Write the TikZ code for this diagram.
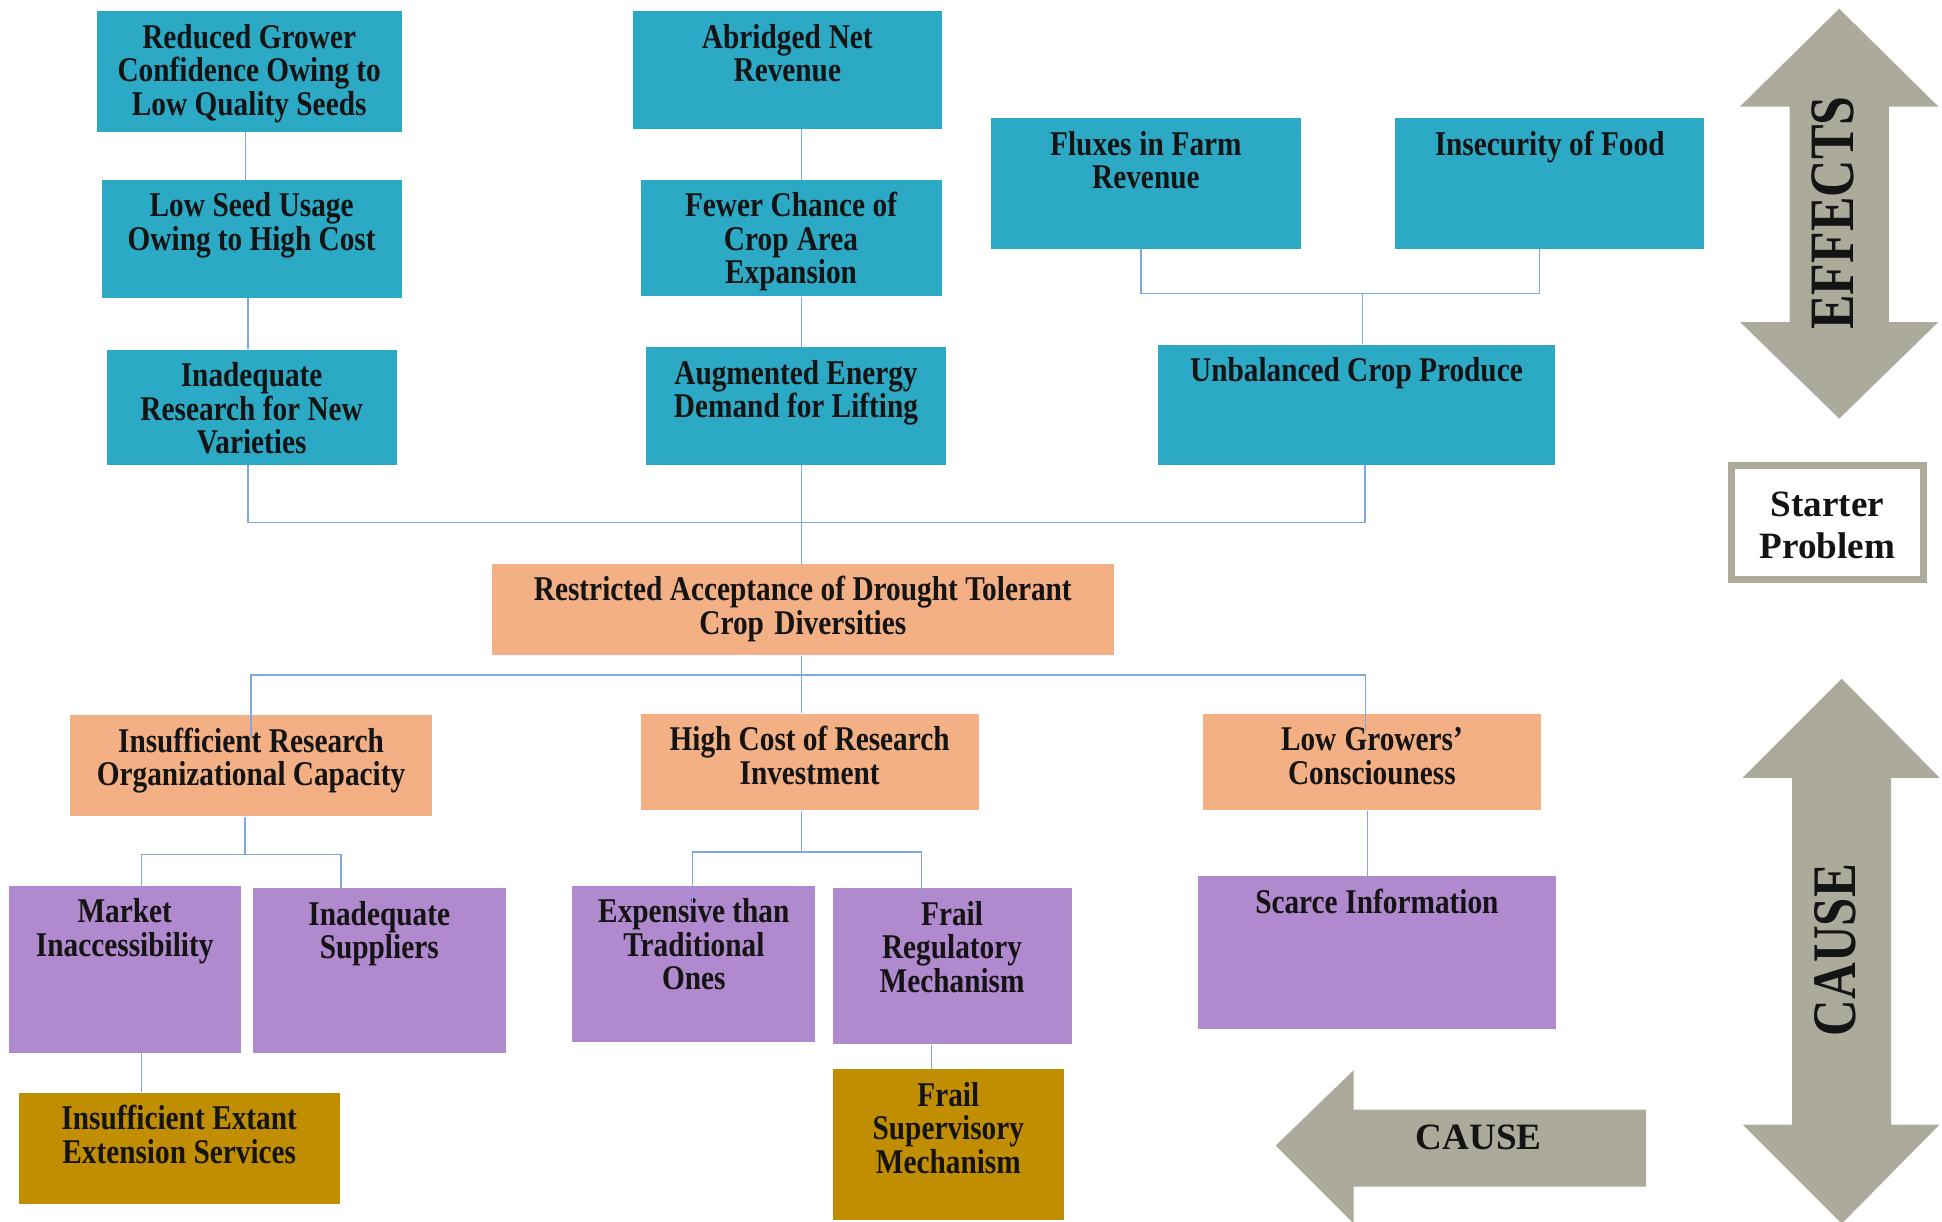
\documentclass[tikz,border=0pt]{standalone}
\usepackage{fontspec}
\setmainfont{Liberation Serif}
\newfontfamily\condfont[FakeStretch=0.845]{Liberation Serif}
\newfontfamily\tallfont[FakeStretch=0.82]{Liberation Serif}

\definecolor{effteal}{RGB}{44,169,196}
\definecolor{probsalmon}{RGB}{243,176,132}
\definecolor{causepurple}{RGB}{176,137,206}
\definecolor{rootgold}{RGB}{192,142,0}
\definecolor{arrowgray}{RGB}{171,170,155}
\definecolor{linkblue}{RGB}{126,168,222}

\tikzset{
  boxbase/.style={rectangle, inner sep=0pt, draw=none},
  boxtext/.style={inner sep=0pt, align=center, text=black!92,
    font=\condfont\bfseries\fontsize{28}{27}\selectfont},
  conn/.style={draw=linkblue, line width=1.2pt},
  bigarrow/.style={fill=arrowgray, draw=none},
}

% name, fill, x1, y1, x2, y2, text
\newcommand\diagbox[7]{%
  \pgfmathsetmacro\dgbw{#5-#3}%
  \pgfmathsetmacro\dgbh{#6-#4}%
  \pgfmathsetmacro\dgtw{#5-#3-6}%
  \node[boxbase, fill=#2, minimum width=\dgbw pt, minimum height=\dgbh pt,
        anchor=north west] (#1) at (#3,#4) {};
  \node[boxtext, text width=\dgtw pt, anchor=north] (#1-t)
        at ([yshift=-9pt]#1.north)
        {\spaceskip=5.5pt plus 1pt minus 1pt\relax\rule{0pt}{21pt}#7};%
}

\begin{document}
\begin{tikzpicture}[x=1pt, y=-1pt]
\path[fill=white] (0,0) rectangle (1568,986);
\useasboundingbox (0,0) rectangle (1568,986);

% ---------- effects ----------
\diagbox{rg}{effteal}{78}{9}{324}{106}{Reduced Grower\\Confidence Owing to\\Low Quality Seeds}
\diagbox{ls}{effteal}{82}{145}{324}{240}{Low Seed Usage\\Owing to High Cost}
\diagbox{ir}{effteal}{86}{282}{320}{375}{Inadequate\\Research for New\\Varieties}
\diagbox{an}{effteal}{511}{9}{760}{104}{Abridged Net\\Revenue}
\diagbox{fc}{effteal}{517}{145}{760}{239}{Fewer Chance of\\Crop Area\\Expansion}
\diagbox{ae}{effteal}{521}{280}{764}{375}{Augmented Energy\\Demand for Lifting}
\diagbox{fx}{effteal}{800}{95}{1050}{201}{Fluxes in Farm\\Revenue}
\diagbox{fd}{effteal}{1126}{95}{1376}{201}{Insecurity of Food}
\diagbox{ub}{effteal}{935}{278}{1255}{375}{Unbalanced Crop Produce}

% ---------- core problem ----------
\diagbox{res}{probsalmon}{397}{455}{899}{529}{Restricted Acceptance of Drought Tolerant\\Crop Diversities}

% ---------- causes ----------
\diagbox{ira}{probsalmon}{56}{577}{349}{659}{Insufficient Research\\Organizational Capacity}
\diagbox{hc}{probsalmon}{517}{576}{790}{654}{High Cost of Research\\Investment}
\diagbox{lg}{probsalmon}{971}{576}{1244}{654}{Low Growers’\\Consciouness}

\diagbox{ma}{causepurple}{7}{715}{194}{850}{Market\\Inaccessibility}
\diagbox{su}{causepurple}{204}{717}{408}{850}{Inadequate\\Suppliers}
\diagbox{ex}{causepurple}{462}{715}{658}{841}{Expensive than\\Traditional\\Ones}
\diagbox{fr}{causepurple}{672}{717}{865}{843}{Frail\\Regulatory\\Mechanism}
\diagbox{sc}{causepurple}{967}{707}{1256}{831}{Scarce Information}

\diagbox{ext}{rootgold}{15}{882}{274}{972}{Insufficient Extant\\Extension Services}
\diagbox{fs}{rootgold}{672}{863}{859}{985}{Frail\\Supervisory\\Mechanism}

% ---------- junction points ----------
\coordinate (jt) at (647,422);
\coordinate (jf) at (1100,237);
\coordinate (jb) at (647,545);
\coordinate (ja) at (198,690);
\coordinate (jh) at (647,688);

% ---------- connectors: effect chains ----------
\draw[conn] ([xshift=-3pt]rg.south) -- ([xshift=-3pt]rg.south |- ls.north);
\draw[conn] ([xshift=-3pt]ls.south) -- ([xshift=-3pt]ls.south |- ir.north);
\draw[conn] (an.south -| jt) -- (fc.north -| jt);
\draw[conn] (fc.south -| jt) -- (ae.north -| jt);
\draw[conn] ([xshift=-3pt]ir.south) |- (jt);
\draw[conn] ([xshift=7pt]ub.south) |- (jt);
\draw[conn] (ae.south -| jt) -- (res.north -| jt);
\draw[conn] ([xshift=-4pt]fx.south) |- (jf);
\draw[conn] ([xshift=-8pt]fd.south) |- (jf);
\draw[conn] (jf) -- (jf |- ub.north);

% ---------- connectors: cause tree ----------
\draw[conn] (res.south -| jb) -- (hc.north -| jb);
\draw[conn] (jb) -| ([yshift=-18pt]ira.north);
\draw[conn] (jb) -| ([xshift=-5pt, yshift=-14pt]lg.north);
\draw[conn] (ira.south -| ja) -- (ja);
\draw[conn] ([xshift=13.5pt]ma.north) |- (ja);
\draw[conn] ([xshift=-31pt]su.north) |- (ja);
\draw[conn] (hc.south -| jh) -- (jh);
\draw[conn] ([xshift=-1pt, yshift=-15pt]ex.north) |- (jh);
\draw[conn] ([xshift=-24.5pt, yshift=-8pt]fr.north) |- (jh);
\draw[conn] ([xshift=-3.5pt]lg.south) -- ([xshift=-3.5pt]lg.south |- sc.north);
\draw[conn] ([xshift=13.5pt]ma.south) -- ([xshift=13.5pt]ma.south |- ext.north);
\draw[conn] ([xshift=-16.5pt]fr.south) -- ([xshift=-16.5pt]fr.south |- fs.north);

% ---------- side legend ----------
\path[bigarrow] (1485,7) -- (1565,86) -- (1525,86) -- (1525,260) -- (1565,260)
  -- (1485,338) -- (1405,260) -- (1445,260) -- (1445,86) -- (1405,86) -- cycle;
\node[rotate=90, inner sep=0pt, text=black!92,
      font=\tallfont\bfseries\fontsize{51}{51}\selectfont] (efflbl) at (1480,172) {EFFECTS};

\node[boxbase, draw=arrowgray, line width=6pt, fill=white,
      minimum width=155pt, minimum height=92pt] (sp) at (1475.5,422) {};
\node[inner sep=0pt, align=center, text=black!92,
      font=\bfseries\fontsize{30}{34}\selectfont] (sp-t) at ([yshift=-2pt]sp.center) {Starter\\Problem};

\path[bigarrow] (1487,548) -- (1566,628) -- (1527,628) -- (1527,908) -- (1566,908)
  -- (1487,988) -- (1407,908) -- (1447,908) -- (1447,628) -- (1407,628) -- cycle;
\node[rotate=90, inner sep=0pt, text=black!92,
      font=\tallfont\bfseries\fontsize{50}{50}\selectfont] (causev) at (1482,767) {CAUSE};

\path[bigarrow] (1030,925) -- (1093,864) -- (1093,896) -- (1329,896) -- (1329,958)
  -- (1093,958) -- (1093,988) -- cycle;
\node[inner sep=0pt, text=black!92,
      font=\bfseries\fontsize{30}{30}\selectfont] (causeh) at (1194,918) {CAUSE};
\end{tikzpicture}
\end{document}
